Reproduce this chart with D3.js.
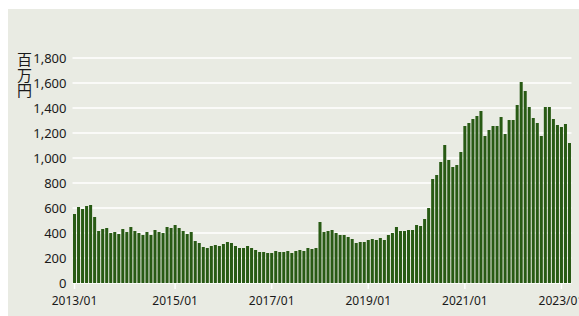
<!DOCTYPE html>
<html>
<head>
<meta charset="utf-8">
<script src="https://cdn.jsdelivr.net/npm/d3@7"></script>
<style>
  html, body { margin: 0; padding: 0; background: #ffffff; }
  svg { display: block; }
  .tick-label { font-family: "Noto Sans", "DejaVu Sans", sans-serif; fill: #1a1a1a; }
  .unit { font-family: "Noto Sans CJK JP", sans-serif; fill: #1a1a1a; writing-mode: vertical-rl; }
</style>
</head>
<body>
<div id="chart"></div>
<script>
// --- Data (monthly values, 百万円) ---
const values = [
  552, 608, 592, 616, 624, 528, 416, 432, 440, 400, 408, 392, 432, 408, 448, 416, 400, 384, 408, 384,
  424, 408, 400, 448, 440, 464, 440, 416, 392, 408, 336, 320, 288, 280, 296, 304, 296, 312, 328, 320, 296,
  280, 280, 296, 280, 264, 248, 248, 240, 240, 256, 248, 248, 256, 240, 256, 264, 256, 280, 272, 280, 488,
  408, 416, 424, 400, 384, 384, 368, 352, 320, 328, 328, 344, 352, 344, 360, 344, 384, 400, 448, 416, 416, 424, 424, 464, 456, 512, 600,
  832, 864, 968, 1104, 984, 928, 944, 1048, 1256, 1280, 1312, 1336, 1376, 1176, 1224, 1256, 1256, 1328, 1192, 1304, 1304,
  1424, 1608, 1536, 1408, 1320, 1280, 1176, 1408, 1408, 1312, 1264, 1248, 1272, 1120
];
const xTickIndex = [0, 25, 49, 73, 97, 121];
const xTickLabels = ["2013/01", "2015/01", "2017/01", "2019/01", "2021/01", "2023/01"];
const yTicks = [0, 200, 400, 600, 800, 1000, 1200, 1400, 1600, 1800];
const unitLabel = "百万円";

// --- Layout ---
const W = 579, H = 316;
const panel = { x: 8, y: 9 };
const plot = { left: 72.5, right: 571.5, top: 58, bottom: 283 };

const svg = d3.select("#chart").append("svg")
    .attr("width", W)
    .attr("height", H);

svg.append("rect")
    .attr("x", panel.x).attr("y", panel.y)
    .attr("width", W - panel.x).attr("height", H - panel.y)
    .attr("fill", "#e9ebe3");

// Scales
const x = d3.scaleBand()
    .domain(d3.range(values.length))
    .range([plot.left, plot.right])
    .paddingInner(0.25)
    .paddingOuter(0.125);

const y = d3.scaleLinear()
    .domain([0, 1800])
    .range([plot.bottom, plot.top]);

// Grid
svg.append("g")
    .selectAll("line")
    .data(yTicks)
    .enter()
    .append("line")
    .attr("x1", plot.left)
    .attr("x2", plot.right)
    .attr("y1", d => y(d))
    .attr("y2", d => y(d))
    .attr("stroke", "#ffffff")
    .attr("stroke-width", 1.5);

// Y labels
svg.append("g")
    .selectAll("text")
    .data(yTicks)
    .enter()
    .append("text")
    .attr("class", "tick-label")
    .attr("x", 66.5)
    .attr("y", d => y(d))
    .attr("dy", "0.35em")
    .attr("text-anchor", "end")
    .style("font-size", "13px")
    .text(d => d3.format(",")(d));

// Unit label (vertical)
svg.append("text")
    .attr("class", "unit")
    .attr("x", 24.5)
    .attr("y", 52)
    .style("font-size", "15px")
    .style("letter-spacing", "0.5px")
    .text(unitLabel);

// Bars
svg.append("g")
    .selectAll("rect")
    .data(values)
    .enter()
    .append("rect")
    .attr("x", (d, i) => x(i))
    .attr("y", d => y(d))
    .attr("width", x.bandwidth())
    .attr("height", d => y(0) - y(d))
    .attr("fill", "#285a14");

// X axis ticks + labels
const xt = svg.append("g")
    .selectAll("g")
    .data(xTickIndex)
    .enter()
    .append("g")
    .attr("transform", d => `translate(${x(d) + x.bandwidth() / 2},0)`);

xt.append("line")
    .attr("y1", plot.bottom)
    .attr("y2", plot.bottom + 6)
    .attr("stroke", "#ffffff")
    .attr("stroke-width", 1.5);

xt.append("text")
    .attr("class", "tick-label")
    .attr("y", 305)
    .attr("text-anchor", "middle")
    .style("font-size", "12px")
    .text((d, i) => xTickLabels[i]);
</script>
</body>
</html>
